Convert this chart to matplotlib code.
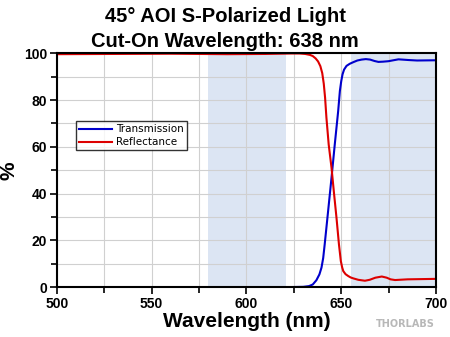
import matplotlib.pyplot as plt

# Transmission curve (%)
trans_nm = [500, 550, 600, 623.7, 630, 633, 635, 636.9, 638.5, 639.6, 640.5,
            641.3, 643.1, 644.9, 646.6, 648.4, 649.3, 650, 650.7, 651.5,
            652.8, 654.5, 656.4, 658.5, 660.8, 663, 665.2, 667.5, 669.6,
            672, 674.9, 677.5, 680.2, 685.5, 690, 700]
trans_pct = [0, 0, 0, 0.1, 0.2, 0.5, 1.2, 3.0, 5.5, 8.4, 12.5,
             18.4, 32.6, 46.9, 61, 75.3, 83.9, 88, 91, 93,
             94.6, 95.5, 96.2, 96.9, 97.3, 97.5, 97.3, 96.7, 96.3,
             96.4, 96.6, 97.0, 97.4, 97.1, 96.9, 97]

# Reflectance curve (%)
refl_nm = [500, 530, 560, 590, 610, 623.7, 628, 631, 633.5, 635, 636.5,
           637.8, 639, 640, 640.8, 641.5, 642.2, 643.4, 644.9, 646.1, 647.5,
           648.8, 649.8, 650.5, 651.1, 652.3, 653.7, 655, 656.4, 659, 662.5,
           665, 668, 671.4, 674, 676, 678.4, 685, 700]
refl_pct = [99.6, 99.7, 99.8, 99.6, 99.7, 99.9, 99.9, 99.7, 99.3, 98.8, 97.8,
            96.5, 94.5, 91.5, 87, 81, 72.5, 61, 51, 41, 29.8,
            18.4, 11.2, 8.5, 6.9, 5.6, 4.8, 4.2, 3.8, 3.2, 2.8,
            3.2, 4.1, 4.6, 4.1, 3.4, 3.1, 3.4, 3.6]

# Shaded bands (nm)
bands = [(580, 621), (655, 700)]

fig = plt.figure(figsize=(4.5, 3.37), dpi=100)
ax = fig.add_axes([0.126, 0.1475, 0.843, 0.6945])

for lo, hi in bands:
    ax.axvspan(lo, hi, color="#dce5f3", zorder=0, lw=0)

ax.plot(trans_nm, trans_pct, color="#0000cc", lw=1.5, label="Transmission", zorder=3)
ax.plot(refl_nm, refl_pct, color="#dd0000", lw=1.5, label="Reflectance", zorder=3)

ax.set_xlim(500, 700)
ax.set_ylim(0, 100)
ax.set_xticks(range(500, 701, 50))
ax.set_xticks(range(500, 701, 25), minor=True)
ax.set_yticks(range(0, 101, 20))
ax.set_yticks(range(0, 101, 10), minor=True)
ax.grid(True, which="both", color="#d0d0d0", lw=0.8, zorder=1)
ax.set_axisbelow(False)
for gl in ax.get_xgridlines() + ax.get_ygridlines():
    gl.set_zorder(1)

ax.tick_params(which="both", direction="out", top=False, right=False,
               width=1.2, labelsize=10, pad=2)
ax.tick_params(which="major", length=5)
ax.tick_params(which="minor", length=4)
for lab in ax.get_xticklabels() + ax.get_yticklabels():
    lab.set_fontweight("bold")
    lab.set_family("Liberation Sans")
for sp in ax.spines.values():
    sp.set_linewidth(1.5)
    sp.set_zorder(4)

ax.set_xlabel("Wavelength (nm)", fontsize=15, fontweight="bold",
              family="Liberation Sans", labelpad=1)
ax.set_ylabel("%", fontsize=15, fontweight="bold", family="Liberation Sans",
              labelpad=4)
fig.suptitle("45° AOI S-Polarized Light\nCut-On Wavelength: 638 nm",
             fontsize=14.5, fontweight="bold", family="Liberation Sans",
             y=0.98, linespacing=1.4)

leg = ax.legend(loc="upper left", bbox_to_anchor=(0.05, 0.71), fontsize=7.5,
                frameon=True, fancybox=False, edgecolor="black",
                handlelength=3.2, borderpad=0.3, labelspacing=0.3,
                handletextpad=0.4, borderaxespad=0)
leg.get_frame().set_linewidth(1.0)
leg.set_zorder(5)

fig.text(0.9, 0.04, "THORLABS", color="#b8b8b8", fontsize=7,
         fontweight="bold", ha="center", va="center")

fig.savefig("out.png", dpi=100)
